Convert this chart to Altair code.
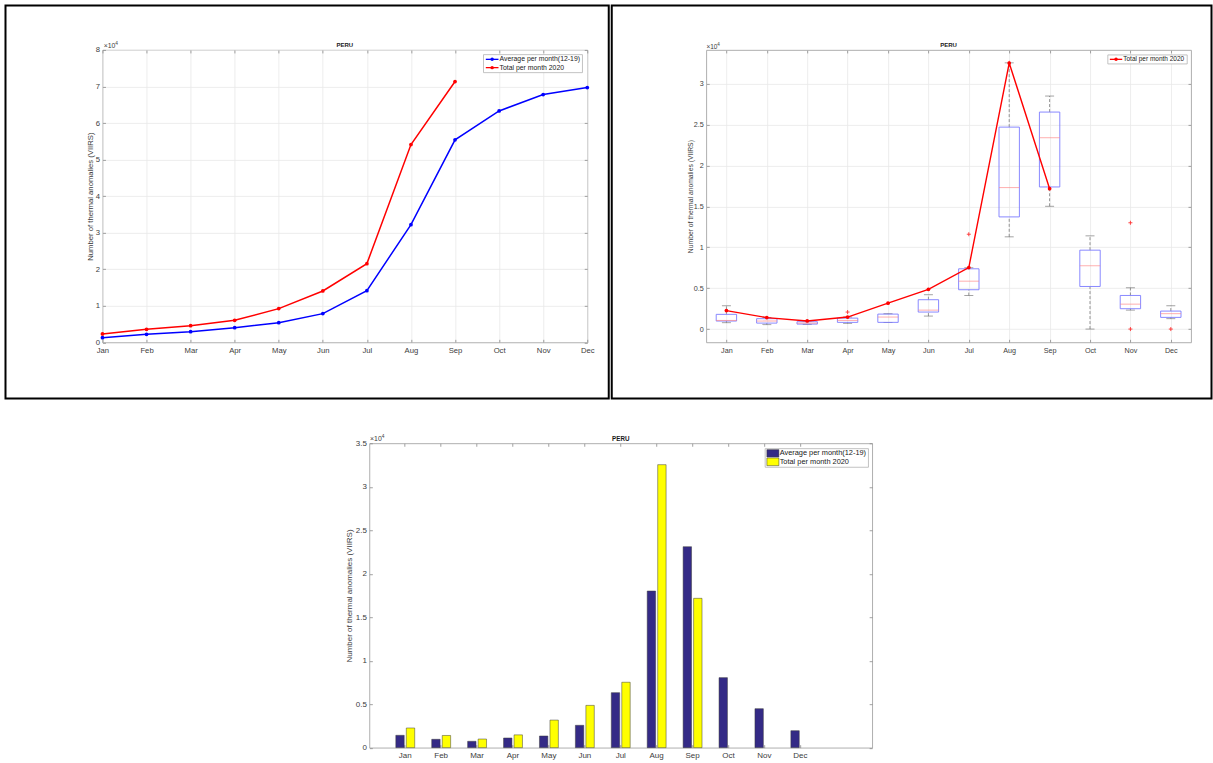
import altair as alt
import pandas as pd

# ---------------------------------------------------------------- data
months = ["Jan", "Feb", "Mar", "Apr", "May", "Jun",
          "Jul", "Aug", "Sep", "Oct", "Nov", "Dec"]
months_2020 = ["Jan", "Feb", "Mar", "Apr", "May", "Jun", "Jul", "Aug", "Sep"]

label_avg = "Average per month(12-19)"
label_2020 = "Total per month 2020"
y_title = "Number of thermal anomalies (VIIRS)"
country = "PERU"

# cumulative thermal anomalies, in units of 10^4
cum_avg = [0.128, 0.219, 0.292, 0.401, 0.538, 0.785, 1.414, 3.22, 5.54, 6.33, 6.78, 6.97]
cum_2020 = [0.228, 0.356, 0.456, 0.602, 0.922, 1.405, 2.153, 5.41, 7.135]

# monthly thermal anomalies, in units of 10^4
monthly_avg = [0.142, 0.096, 0.073, 0.111, 0.134, 0.257, 0.632, 1.801, 2.311, 0.805, 0.448, 0.195]
monthly_2020 = [0.226, 0.140, 0.099, 0.147, 0.317, 0.486, 0.752, 3.254, 1.717]

# monthly distribution 2012-2019 (box plot statistics), in units of 10^4
whisker_lo = [0.078, 0.054, 0.057, 0.070, 0.080, 0.159, 0.410, 1.128, 1.502, 0.000, 0.232, 0.127]
quart_1 = [0.098, 0.073, 0.061, 0.082, 0.082, 0.208, 0.481, 1.372, 1.738, 0.521, 0.249, 0.143]
medians = [0.106, 0.098, 0.073, 0.106, 0.147, 0.232, 0.586, 1.730, 2.340, 0.774, 0.305, 0.188]
quart_3 = [0.180, 0.127, 0.090, 0.134, 0.183, 0.359, 0.737, 2.470, 2.654, 0.965, 0.411, 0.220]
whisker_hi = [0.285, 0.140, 0.100, 0.147, 0.188, 0.420, 0.750, 3.256, 2.850, 1.140, 0.505, 0.285]
outlier_months = ["Apr", "Jul", "Nov", "Nov", "Dec"]
outlier_values = [0.208, 1.16, 1.30, 0.0, 0.0]

# axis tick values
ticks_cum = [0, 1, 2, 3, 4, 5, 6, 7, 8]
ticks_box = [0, 0.5, 1, 1.5, 2, 2.5, 3]
ticks_bar = [0, 0.5, 1, 1.5, 2, 2.5, 3, 3.5]

# ---------------------------------------------------------------- style
FONT = "Liberation Sans"
TEXT = "#3c3c3c"
GRID = "#e8e8e8"
TICK = "#8a8a8a"
BOX = "#a6a6a6"
BLUE = "#0000ff"
RED = "#ff0000"
NAVY = "#342a86"
YELLOW = "#ffff00"

W1, H1 = 485, 292.5
W2, H2 = 485, 292.5
W3, H3 = 503, 304.5

one = pd.DataFrame({"k": [0]})


def text(t, x, y, size, color=TEXT, weight="normal", align="left"):
    return alt.Chart(one).mark_text(
        text=t, font=FONT, fontSize=size, color=color, fontWeight=weight,
        align=align, baseline="middle",
    ).encode(x=alt.value(x), y=alt.value(y))


def rect(x0, x1, y0, y1, stroke, width, fill="transparent"):
    return alt.Chart(one).mark_rect(
        fill=fill, stroke=stroke, strokeWidth=width
    ).encode(x=alt.value(x0), x2=alt.value(x1), y=alt.value(y0), y2=alt.value(y1))


def exponent(x, y, size):
    return [text("\u00d710", x, y, size), text("4", x + 1.68 * size, y - 2.2, size * 0.7)]


def heading(x, y, size):
    return text(country, x, y, size, color="#1a1a1a", weight="bold", align="center")


def legend_line(label, color, x0, x1, y, fs):
    rule = alt.Chart(one).mark_rule(color=color, strokeWidth=1.3).encode(
        x=alt.value(x0), x2=alt.value(x1), y=alt.value(y))
    dot = alt.Chart(one).mark_circle(color=color, size=12, opacity=1).encode(
        x=alt.value((x0 + x1) / 2), y=alt.value(y))
    return [rule, dot, text(label, x1 + 1, y, fs, color="#202020")]


def legend_swatch(label, color, x0, x1, y0, y1, fs):
    sw = rect(x0, x1, y0, y1, "#303030", 0.5, fill=color)
    return [sw, text(label, x1 + 0.8, (y0 + y1) / 2, fs, color="#202020")]


def axis_layers(data, xfield, yfield, xs, ys, w, h, yvals, fs, title_x, title_fs,
                grid, band=False):
    xa = dict(labelAngle=0, labelPadding=4, labelFontSize=fs, labelColor=TEXT,
              labelFont=FONT, ticks=False, domain=False, grid=grid, gridColor=GRID,
              gridWidth=0.8, title=None)
    ya = dict(values=yvals, format="~g", labelPadding=3, labelFontSize=fs,
              labelColor=TEXT, labelFont=FONT, ticks=False, domain=False, grid=grid,
              gridColor=GRID, gridWidth=0.8, title=y_title, titleFont=FONT,
              titleFontSize=title_fs, titleFontWeight="normal", titleColor=TEXT,
              titleX=title_x, titleY=h / 2, titleAngle=-90, titleAlign="center",
              titleBaseline="middle")
    tk = dict(labels=False, grid=False, domain=False, ticks=True, tickSize=3,
              tickColor=TICK, tickWidth=0.8, title=None)
    xt = dict(tk)
    if band:
        xa["bandPosition"] = 0.5
        xt["bandPosition"] = 0.5

    def layer(xaxis, yaxis):
        return alt.Chart(data).mark_point(opacity=0).encode(
            x=alt.X(xfield, type="ordinal", scale=xs, axis=alt.Axis(**xaxis)),
            y=alt.Y(yfield, type="quantitative", scale=ys, axis=alt.Axis(**yaxis)),
        )

    return [
        layer(dict(xa, orient="bottom"), dict(ya, orient="left")),
        layer(dict(xt, orient="top", offset=-h), dict(tk, orient="right", offset=-w, values=yvals)),
        layer(dict(xt, orient="bottom", offset=-h), dict(tk, orient="left", offset=-w, values=yvals)),
    ]


# ---------------------------------------------------------------- panel 1: cumulative lines
cum_df = pd.DataFrame({
    "month": months + months_2020,
    "value": cum_avg + cum_2020,
    "series": [label_avg] * len(cum_avg) + [label_2020] * len(cum_2020),
})
xs1 = alt.Scale(type="point", domain=months, padding=0)
ys1 = alt.Scale(domain=[0, 8], nice=False, zero=False)
col1 = alt.Scale(domain=[label_avg, label_2020], range=[BLUE, RED])

lines1 = alt.Chart(cum_df).mark_line(strokeWidth=1.5).encode(
    x=alt.X("month:O", scale=xs1, axis=None),
    y=alt.Y("value:Q", scale=ys1, axis=None),
    color=alt.Color("series:N", scale=col1, legend=None),
)
dots1 = alt.Chart(cum_df).mark_circle(size=14, opacity=1).encode(
    x=alt.X("month:O", scale=xs1, axis=None),
    y=alt.Y("value:Q", scale=ys1, axis=None),
    color=alt.Color("series:N", scale=col1, legend=None),
)
p1_layers = (
    [rect(-97, 506.5, -44.5, 348.7, "black", 2)]
    + axis_layers(cum_df, "month", "value", xs1, ys1, W1, H1, ticks_cum, 7.7, -11.5, 7.7, True)
    + [lines1, dots1, rect(381.2, 480.2, 4.7, 22.7, "#b4b4b4", 0.8, fill="white")]
    + legend_line(label_avg, BLUE, 383.5, 396.2, 9.4, 6.9)
    + legend_line(label_2020, RED, 383.5, 396.2, 17.7, 6.9)
    + exponent(1.2, -4, 6.9)
    + [heading(W1 / 2, -4.6, 6)]
)
p1 = alt.layer(*p1_layers).resolve_axis(x="independent", y="independent").properties(
    width=W1, height=H1)

# ---------------------------------------------------------------- panel 2: box plots + 2020 line
box_df = pd.DataFrame({"month": months, "lo": whisker_lo, "q1": quart_1,
                       "med": medians, "q3": quart_3, "hi": whisker_hi})
red_df = pd.DataFrame({"month": months_2020, "value": monthly_2020})
out_df = pd.DataFrame({"month": outlier_months, "value": outlier_values})

xs2 = alt.Scale(type="point", domain=months, padding=0.5)
ys2 = alt.Scale(domain=[-0.162, 3.414], nice=False, zero=False)


def xy2(yfield, y2field=None):
    enc = dict(x=alt.X("month:O", scale=xs2, axis=None),
               y=alt.Y(yfield, type="quantitative", scale=ys2, axis=None))
    if y2field:
        enc["y2"] = alt.Y2(y2field)
    return enc


whisk_up = alt.Chart(box_df).mark_rule(color="#7a7a7a", strokeWidth=0.8, strokeDash=[3, 2]).encode(**xy2("q3", "hi"))
whisk_dn = alt.Chart(box_df).mark_rule(color="#7a7a7a", strokeWidth=0.8, strokeDash=[3, 2]).encode(**xy2("lo", "q1"))
cap_up = alt.Chart(box_df).mark_tick(color="#6e6e6e", size=9, thickness=0.9, orient="horizontal").encode(**xy2("hi"))
cap_dn = alt.Chart(box_df).mark_tick(color="#6e6e6e", size=9, thickness=0.9, orient="horizontal").encode(**xy2("lo"))
boxes = alt.Chart(box_df).mark_bar(filled=False, color="#7c7cff", strokeWidth=0.9, size=20.4).encode(**xy2("q1", "q3"))
meds = alt.Chart(box_df).mark_tick(color="#ff8080", size=20.4, thickness=0.9, orient="horizontal").encode(**xy2("med"))
outs = alt.Chart(out_df).mark_point(shape="M-1,0H1M0,-1V1", filled=False, color="#ff3030",
                                    size=16, strokeWidth=0.9, opacity=1).encode(**xy2("value"))
line2 = alt.Chart(red_df).mark_line(color=RED, strokeWidth=1.4).encode(**xy2("value"))
dots2 = alt.Chart(red_df).mark_circle(color=RED, size=14, opacity=1).encode(**xy2("value"))

p2_layers = (
    [rect(-94.5, 505.5, -44.5, 348.7, "black", 2)]
    + axis_layers(box_df, "month", "med", xs2, ys2, W2, H2, ticks_box, 7.2, -15.5, 6.8, True)
    + [whisk_up, whisk_dn, cap_up, cap_dn, boxes, meds, outs, line2, dots2,
       rect(401.8, 481.2, 5.0, 14.0, "#b4b4b4", 0.8, fill="white")]
    + legend_line(label_2020, RED, 403.8, 416.2, 9.4, 6.5)
    + exponent(0.2, -3, 6.5)
    + [heading(W2 / 2, -4.6, 6)]
)
p2 = alt.layer(*p2_layers).resolve_axis(x="independent", y="independent").properties(
    width=W2, height=H2)

# ---------------------------------------------------------------- panel 3: grouped bars
bar_df = pd.DataFrame({
    "month": months + months_2020,
    "series": [label_avg] * len(monthly_avg) + [label_2020] * len(monthly_2020),
    "value": monthly_avg + monthly_2020,
})
xs3 = alt.Scale(type="band", domain=months, paddingInner=0, paddingOuter=1, align=0.25)
ys3 = alt.Scale(domain=[0, 3.5], nice=False, zero=False)
off3 = alt.Scale(domain=[label_avg, label_2020], paddingInner=0.2, paddingOuter=0.81)
col3 = alt.Scale(domain=[label_avg, label_2020], range=[NAVY, YELLOW])

bars = alt.Chart(bar_df).mark_bar(stroke="#3a3a3a", strokeWidth=0.5).encode(
    x=alt.X("month:O", scale=xs3, axis=None),
    xOffset=alt.XOffset("series:N", scale=off3),
    y=alt.Y("value:Q", scale=ys3, axis=None),
    color=alt.Color("series:N", scale=col3, legend=None),
)
p3_layers = (
    # invisible strip that fixes the top edge of this row
    [rect(0, 10, -20, -19, "transparent", 0)]
    + axis_layers(bar_df, "month", "value", xs3, ys3, W3, H3, ticks_bar, 8, -20, 8, False, band=True)
    + [bars, rect(396, 499.3, 5.4, 24.0, "#b4b4b4", 0.8, fill="white")]
    + legend_swatch(label_avg, NAVY, 397.7, 409.7, 6.4, 13.7, 7.4)
    + legend_swatch(label_2020, YELLOW, 397.7, 409.7, 14.7, 22.4, 7.4)
    + exponent(0.7, -4.3, 6.9)
    + [heading(W3 / 2, -4.3, 6.3)]
)
p3 = alt.layer(*p3_layers).resolve_axis(x="independent", y="independent").properties(
    width=W3, height=H3)

# empty cell that shifts the bar panel to the right
spacer = alt.Chart(one).mark_point(opacity=0).encode(
    x=alt.value(0), y=alt.value(0)
).properties(width=148, height=10, view=alt.ViewBackground(stroke="transparent"))

row1 = alt.HConcatChart(hconcat=[p1, p2], spacing=119, bounds="flush")
row2 = alt.HConcatChart(hconcat=[spacer, p3], spacing=119, bounds="flush")

chart = alt.VConcatChart(
    vconcat=[row1, row2],
    spacing=21.5,
    padding={"left": 3.5, "top": 3.8, "right": 0, "bottom": 0},
).resolve_scale(color="independent").configure(font=FONT).configure_view(
    stroke=BOX, strokeWidth=0.9)

chart.save("out.html", embed_options={"renderer": "svg", "actions": False})
